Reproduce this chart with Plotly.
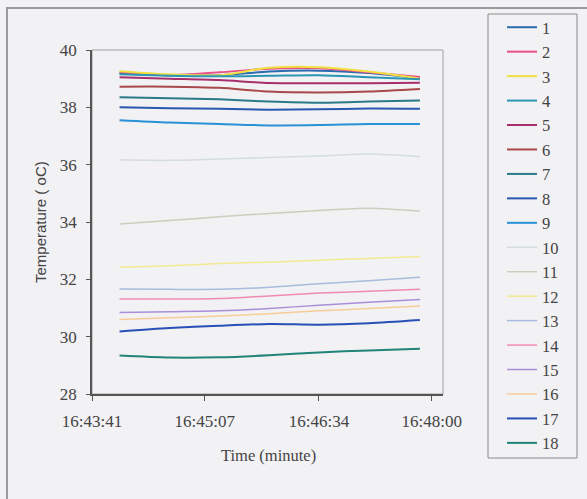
import plotly.graph_objects as go

# Sample times (HH:MM:SS) and sensor temperatures (oC) for 18 probes
times = ["16:44:02", "16:44:40", "16:45:18", "16:45:56", "16:46:34", "16:47:12", "16:47:51"]

s1 = [39.18, 39.12, 39.12, 39.25, 39.28, 39.20, 39.02]
s2 = [39.22, 39.12, 39.22, 39.35, 39.36, 39.22, 39.06]
s3 = [39.26, 39.15, 39.12, 39.38, 39.40, 39.25, 39.00]
s4 = [39.15, 39.10, 39.08, 39.10, 39.12, 39.05, 38.98]
s5 = [39.05, 39.00, 38.95, 38.85, 38.84, 38.84, 38.86]
s6 = [38.72, 38.72, 38.68, 38.55, 38.52, 38.55, 38.64]
s7 = [38.35, 38.32, 38.28, 38.20, 38.16, 38.20, 38.24]
s8 = [38.00, 37.97, 37.95, 37.92, 37.93, 37.96, 37.95]
s9 = [37.55, 37.47, 37.42, 37.37, 37.38, 37.42, 37.42]
s10 = [36.17, 36.15, 36.20, 36.25, 36.30, 36.37, 36.28]
s11 = [33.93, 34.05, 34.18, 34.30, 34.40, 34.48, 34.38]
s12 = [32.42, 32.47, 32.55, 32.60, 32.67, 32.73, 32.80]
s13 = [31.66, 31.65, 31.65, 31.72, 31.85, 31.95, 32.07]
s14 = [31.31, 31.31, 31.33, 31.42, 31.52, 31.58, 31.65]
s15 = [30.84, 30.87, 30.90, 30.98, 31.10, 31.20, 31.30]
s16 = [30.60, 30.66, 30.72, 30.80, 30.90, 30.98, 31.07]
s17 = [30.18, 30.30, 30.38, 30.44, 30.42, 30.47, 30.58]
s18 = [29.34, 29.27, 29.28, 29.35, 29.45, 29.52, 29.58]

series = [s1, s2, s3, s4, s5, s6, s7, s8, s9, s10, s11, s12, s13, s14, s15, s16, s17, s18]
names = [str(i) for i in range(1, 19)]

tick_times = ["16:43:41", "16:45:07", "16:46:34", "16:48:00"]
y_ticks = [28, 30, 32, 34, 36, 38, 40]

colors = ["#2a6cb0", "#e8508a", "#f0e040", "#2a96b4", "#a8306a", "#a8484a",
          "#2a7888", "#2858b0", "#2a90d8", "#d4dde2", "#c8d0bc", "#f2ea90",
          "#a8bcdc", "#f08cb0", "#a890d8", "#f8cc98", "#2850b8", "#208478"]
widths = [2, 2, 2, 2, 2, 2, 2, 2, 2, 1.5, 1.5, 1.5, 1.5, 1.5, 1.5, 1.5, 2, 2]

day = "2000-01-01 "
xs = [day + t for t in times]

fig = go.Figure()
for name, vals, c, w in zip(names, series, colors, widths):
    fig.add_trace(go.Scatter(
        x=xs, y=vals, name=name, mode="lines",
        line=dict(color=c, width=w, shape="spline", smoothing=0.8),
    ))

serif = "Liberation Serif, Times New Roman, serif"
txt_col = "#444444"
axis_col = "#555555"
bg = "#f2f1f4"
W, H = 587, 499
L, R, T, B = 92, 443, 50, 394  # plot-area edges in pixels
pw, ph = R - L, B - T


def px_x(x):
    return (x - L) / pw


def px_y(y):
    return (B - y) / ph


fig.update_layout(
    width=W, height=H,
    margin=dict(l=L, r=W - R, t=T, b=H - B),
    paper_bgcolor=bg, plot_bgcolor=bg,
    font=dict(family=serif, size=16.5, color=txt_col),
    showlegend=True,
    legend=dict(
        xref="container", yref="container",
        x=502 / W, y=1 - 10 / H, xanchor="left", yanchor="top",
        bgcolor="rgba(0,0,0,0)", borderwidth=0,
        font=dict(family=serif, size=16.5, color=txt_col),
        itemwidth=30, maxheight=1.0,
    ),
    xaxis=dict(
        type="date",
        range=[day + "16:43:41", day + "16:48:08.6"],
        tickvals=[day + t for t in tick_times],
        ticktext=tick_times,
        showgrid=False, zeroline=False,
        showline=True, linecolor=axis_col, linewidth=1.5,
        ticks="outside", ticklen=5, tickcolor=axis_col,
        ticklabelstandoff=6,
        tickfont=dict(family=serif, size=17, color=txt_col),
    ),
    yaxis=dict(
        range=[28, 40],
        tickvals=y_ticks,
        showgrid=False, zeroline=False,
        showline=True, linecolor=axis_col, linewidth=1.5,
        ticks="outside", ticklen=4, tickcolor=axis_col,
        ticklabelstandoff=6,
        tickfont=dict(family=serif, size=17, color=txt_col),
    ),
    shapes=[
        # plot-area frame
        dict(type="rect", xref="paper", yref="paper", x0=0, y0=0, x1=1, y1=1,
             line=dict(color="#a0a0a0", width=1), layer="below"),
        # outer chart frame
        dict(type="rect", xref="paper", yref="paper",
             x0=px_x(7), x1=px_x(590), y0=px_y(505), y1=px_y(8),
             line=dict(color="#9a9a9a", width=2), layer="below"),
        # legend box
        dict(type="rect", xref="paper", yref="paper",
             x0=px_x(488), x1=px_x(577), y0=px_y(458), y1=px_y(14),
             line=dict(color="#8a8a8a", width=1), layer="below"),
    ],
    annotations=[
        dict(text="Time (minute)", xref="paper", yref="paper",
             x=px_x(268), y=px_y(456), showarrow=False,
             xanchor="center", yanchor="middle",
             font=dict(family=serif, size=16.5, color=txt_col)),
        dict(text="Temperature ( oC)", xref="paper", yref="paper",
             x=px_x(40), y=0.5, showarrow=False, textangle=-90,
             xanchor="center", yanchor="middle",
             font=dict(family="Liberation Sans", size=15, color=txt_col)),
    ],
)

fig.write_html("out.html")
